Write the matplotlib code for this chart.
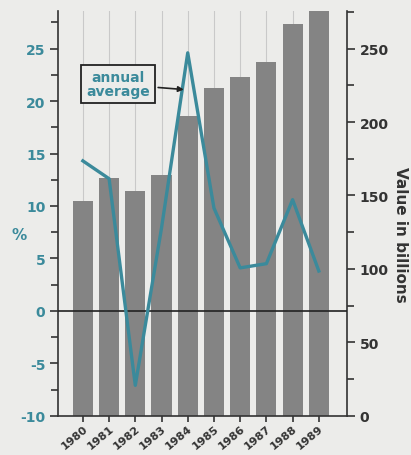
import matplotlib
matplotlib.use("Agg")
import matplotlib.pyplot as plt
from matplotlib.ticker import MultipleLocator

years = ["1980", "1981", "1982", "1983", "1984", "1985", "1986", "1987", "1988", "1989"]
value_billions = [146, 162, 153, 164, 204, 223, 231, 241, 267, 276]
pct_change = [14.3, 12.6, -7.1, 7.9, 24.6, 9.8, 4.1, 4.5, 10.6, 3.8]

plt.rcParams['font.family'] = ['DejaVu Sans']
plt.rcParams['font.weight'] = 'bold'
plt.rcParams['axes.unicode_minus'] = False

bg = "#ececea"
teal = "#3b8a9b"
bar_c = "#848484"
dark = "#333333"

fig = plt.figure(figsize=(4.11, 4.56), dpi=100, facecolor=bg)
ax = fig.add_axes([0.141, 0.086, 0.703, 0.888])
ax.set_facecolor(bg)
ax2 = ax.twinx()
ax2.patch.set_visible(False)
x = list(range(len(years)))

# bars on the billions axis (right)
ax.bar(x, value_billions, width=0.77, color=bar_c, zorder=2)
for xi in x:
    ax.axvline(xi, color="#c9c9c9", lw=0.8, zorder=1)
ax.set_ylim(0, 275.7)
ax.set_xlim(-0.95, 10.07)
ax.yaxis.tick_right()
ax.yaxis.set_label_position("right")
ax.yaxis.set_major_locator(MultipleLocator(50))
ax.yaxis.set_minor_locator(MultipleLocator(25))
ax.tick_params(axis='y', which='major', left=False, right=True, labelleft=False, labelright=True,
               length=6, width=1.2, color=dark, labelcolor=dark, labelsize=10, pad=3)
ax.tick_params(axis='y', which='minor', left=False, right=True, length=5, width=1.2, color=dark)
ax.set_xticks(x)
ax.set_xticklabels(years, rotation=40, ha='right', rotation_mode='anchor', fontsize=8, color=dark)
ax.tick_params(axis='x', length=4, width=1.2, color=dark, pad=1)
ax.set_ylabel("Value in billions", rotation=270, labelpad=14, fontsize=11, color=dark, fontweight='bold')
ax.yaxis.label.set_y(0.45)
for s in ["top", "left"]:
    ax.spines[s].set_visible(False)
for s in ["right", "bottom"]:
    ax.spines[s].set_color(dark)
    ax.spines[s].set_linewidth(1.2)

# percent axis (left)
ax2.yaxis.tick_left()
ax2.yaxis.set_label_position("left")
ax2.set_ylim(-10, 28.6)
ax2.plot(x, pct_change, color=teal, lw=2.4, zorder=5)
ax2.axhline(0, color="#222222", lw=1.2, zorder=4)
ax2.yaxis.set_major_locator(MultipleLocator(5))
ax2.yaxis.set_minor_locator(MultipleLocator(2.5))
ax2.tick_params(axis='y', which='major', left=True, right=False, labelleft=True, labelright=False,
                length=6, width=1.2, color=dark, labelcolor=teal, labelsize=10, pad=3)
ax2.tick_params(axis='y', which='minor', left=True, right=False, length=5, width=1.2, color=dark)
for s in ["top", "right", "bottom"]:
    ax2.spines[s].set_visible(False)
ax2.spines["left"].set_visible(True)
ax2.spines["left"].set_color(dark)
ax2.spines["left"].set_linewidth(1.2)
ax2.set_ylabel("%", rotation=0, fontsize=11, color=teal, fontweight='bold')
ax2.yaxis.set_label_coords(-0.135, 0.43)

ax2.annotate("annual\naverage", xy=(3.85, 21.1), xytext=(1.34, 21.6),
             ha='center', va='center', fontsize=10, color=teal, fontweight='bold',
             linespacing=1.0,
             bbox=dict(boxstyle='square,pad=0.35', fc=bg, ec="#222222", lw=1.3),
             arrowprops=dict(arrowstyle='-|>', color='#222222', lw=1.2, mutation_scale=8,
                             shrinkA=2, shrinkB=0),
             zorder=6)

fig.savefig("out.png", dpi=100, facecolor=bg)
